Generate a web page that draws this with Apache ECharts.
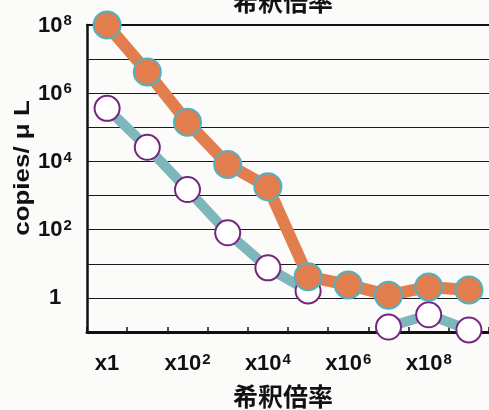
<!DOCTYPE html>
<html>
<head>
<meta charset="utf-8">
<script src="https://cdn.jsdelivr.net/npm/echarts@6/dist/echarts.min.js"></script>
<style>
  html, body { margin: 0; padding: 0; background: #fbfbfa; }
  #chart { width: 489px; height: 410px; }
</style>
</head>
<body>
<div id="chart"></div>
<script>
// Dilution steps (x1 ... x10^9)
const categories = ['x1', 'x10^1', 'x10^2', 'x10^3', 'x10^4', 'x10^5', 'x10^6', 'x10^7', 'x10^8', 'x10^9'];

// copies/µL, filled markers
const seriesFilled = [1.0e8, 4.2e6, 1.4e5, 8.2e3, 1.8e3, 4.2, 2.4, 1.2, 2.1, 1.7];
// copies/µL, open markers (no value at x10^6)
const seriesOpen = [3.6e5, 2.6e4, 1.5e3, 81, 7.6, 1.6, null, 0.14, 0.32, 0.115];

const titleText = '希釈倍率';
const yName = 'copies/ μ L';

const ORANGE = '#e27e4e';
const TEAL_EDGE = '#4fb2c2';
const TEAL_LINE = '#7db7bb';
const PURPLE = '#74267f';
const LATIN = '"Liberation Sans", Arial, sans-serif';
const CJK = '"Noto Sans CJK JP", sans-serif';

function powerLabel(base, exp, prefix) {
  return '{b|' + prefix + base + '}{s|' + exp + '}';
}

const chart = echarts.init(document.getElementById('chart'), null, { renderer: 'canvas' });

const richLabel = {
  b: { fontSize: 22, fontWeight: 'bold', fontFamily: LATIN, color: '#111', lineHeight: 23, verticalAlign: 'bottom' },
  s: { fontSize: 15, fontWeight: 'bold', fontFamily: LATIN, color: '#111', verticalAlign: 'top', padding: [0, 0, 0, 1] }
};

chart.setOption({
  backgroundColor: '#fbfbfa',
  animation: false,
  grid: { left: 87, top: 25, width: 405, height: 307, containLabel: false },
  xAxis: [
    {
      type: 'category',
      data: categories,
      boundaryGap: true,
      axisLine: { show: true, lineStyle: { color: '#111', width: 3 } },
      axisTick: { show: true, inside: true, length: 5, interval: 0, lineStyle: { color: '#111', width: 1.5 } },
      axisLabel: {
        interval: 1,
        margin: 20,
        color: '#111',
        fontFamily: LATIN,
        formatter: function (v) {
          const parts = v.split('^');
          if (parts.length === 1) return '{b|' + v + '}';
          return powerLabel('10', parts[1], 'x');
        },
        rich: richLabel
      },
      splitLine: { show: false }
    },
    {
      // top frame line
      type: 'category',
      position: 'top',
      data: categories,
      axisLine: { show: true, lineStyle: { color: '#111', width: 2 } },
      axisTick: { show: false },
      axisLabel: { show: false },
      splitLine: { show: false }
    }
  ],
  yAxis: {
    type: 'log',
    logBase: 10,
    min: 0.1,
    max: 1e8,
    axisLine: { show: true, lineStyle: { color: '#111', width: 2.5 } },
    axisTick: { show: false },
    splitLine: { show: true, lineStyle: { color: '#1a1a1a', width: 1.2 } },
    axisLabel: {
      align: 'center',
      margin: 32,
      formatter: function (v) {
        const e = Math.round(Math.log10(v));
        if (e < 0 || e % 2 !== 0) return '';
        if (e === 0) return '{b|1}';
        return powerLabel('10', e, '');
      },
      rich: richLabel
    }
  },
  series: [
    {
      type: 'line',
      data: seriesOpen,
      z: 2,
      clip: false,
      connectNulls: false,
      symbol: 'circle',
      symbolSize: 25,
      showAllSymbol: true,
      lineStyle: { color: TEAL_LINE, width: 10, cap: 'round', join: 'round' },
      itemStyle: { color: '#ffffff', borderColor: PURPLE, borderWidth: 2 }
    },
    {
      type: 'line',
      data: seriesFilled,
      z: 3,
      clip: false,
      symbol: 'circle',
      symbolSize: 27,
      showAllSymbol: true,
      lineStyle: { color: ORANGE, width: 12, cap: 'round', join: 'round' },
      itemStyle: { color: ORANGE, borderColor: TEAL_EDGE, borderWidth: 2 }
    }
  ],
  graphic: [
    {
      type: 'text',
      x: 283, y: 1,
      style: { text: titleText, font: 'bold 25px ' + CJK, fill: '#111',
               textAlign: 'center', textVerticalAlign: 'middle', align: 'center', verticalAlign: 'middle' }
    },
    {
      type: 'text',
      x: 283, y: 396,
      style: { text: titleText, font: 'bold 25px ' + CJK, fill: '#111',
               textAlign: 'center', textVerticalAlign: 'middle', align: 'center', verticalAlign: 'middle' }
    },
    {
      type: 'text',
      x: 23, y: 168,
      rotation: Math.PI / 2,
      scaleX: 1.18,
      style: { text: yName, font: 'bold 22px ' + LATIN, fill: '#111',
               textAlign: 'center', textVerticalAlign: 'middle', align: 'center', verticalAlign: 'middle' }
    }
  ]
});
</script>
</body>
</html>
